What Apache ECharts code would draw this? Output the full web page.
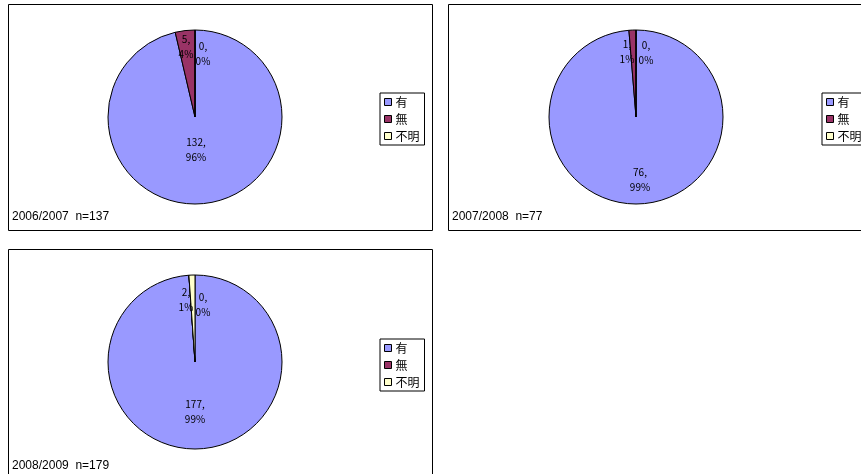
<!DOCTYPE html>
<html>
<head>
<meta charset="utf-8">
<script src="https://cdn.jsdelivr.net/npm/echarts@6/dist/echarts.min.js"></script>
<style>
  html, body { margin: 0; padding: 0; background: #fff; }
  #main { width: 861px; height: 474px; }
</style>
</head>
<body>
<div id="main"></div>
<script>
// カテゴリ
var categories = ["有", "無", "不明"];
// 各年度の件数
var values2006 = [132, 5, 0];
var values2007 = [76, 1, 0];
var values2008 = [177, 0, 2];
var titles = ["2006/2007  n=137", "2007/2008  n=77", "2008/2009  n=179"];
var colors = ["#9999FF", "#993366", "#FFFFCC"];

var myChart = echarts.init(document.getElementById("main"));

// パネルの配置
var panels = [
  { x: 8, y: 4, w: 424, h: 226, cx: 195, cy: 117 },
  { x: 448, y: 4, w: 430, h: 226, cx: 636, cy: 117 },
  { x: 8, y: 249, w: 424, h: 240, cx: 195, cy: 362 }
];
// ラベルのずれ（中心からの位置）
var labelShift = [
  [[1, 33], [-9, -70], [8, -63]],
  [[4, 63], [-9, -65], [10, -64]],
  [[0, 50], [8, -57], [-9, -62]]
];

function makeData(vals) {
  return categories.map(function (c, i) {
    return { name: c, value: vals[i] };
  });
}

function makeSeries(vals, idx) {
  var p = panels[idx];
  return {
    type: "pie",
    center: [p.cx, p.cy],
    radius: 87,
    startAngle: 90,
    clockwise: true,
    minAngle: 0,
    avoidLabelOverlap: false,
    stillShowZeroSum: true,
    silent: true,
    itemStyle: { borderColor: "#000", borderWidth: 1 },
    label: {
      show: true,
      position: "inside",
      color: "#000",
      fontSize: 10,
      lineHeight: 15,
      fontFamily: "Noto Sans CJK JP",
      formatter: function (params) {
        return params.value + ",\n" + Math.round(params.percent) + "%";
      }
    },
    labelLine: { show: false },
    labelLayout: function (params) {
      var s = labelShift[idx][params.dataIndex];
      return {
        x: p.cx + s[0],
        y: p.cy + s[1],
        align: "center",
        verticalAlign: "middle"
      };
    },
    data: makeData(vals)
  };
}

function makeLegend(left, top) {
  return {
    data: categories,
    orient: "vertical",
    left: left,
    top: top,
    icon: "rect",
    itemWidth: 7,
    itemHeight: 7,
    itemGap: 5,
    padding: [3, 5, 3, 4],
    borderColor: "#000",
    borderWidth: 1,
    backgroundColor: "#fff",
    itemStyle: { borderColor: "#000", borderWidth: 1 },
    textStyle: { fontSize: 12, color: "#000", fontFamily: "Noto Sans CJK JP", padding: [0, 0, 0, -1] }
  };
}

var graphics = [];
panels.forEach(function (p, i) {
  graphics.push({
    type: "rect",
    silent: true,
    z: -10,
    shape: { x: p.x + 0.5, y: p.y + 0.5, width: p.w, height: p.h },
    style: { fill: "#fff", stroke: "#000", lineWidth: 1 }
  });
  graphics.push({
    type: "text",
    silent: true,
    left: p.x + 4,
    top: (i === 2 ? 460 : p.y + 207),
    style: {
      text: titles[i],
      fill: "#000",
      font: "12px 'Liberation Sans', Arial, sans-serif"
    }
  });
});

var option = {
  animation: false,
  color: colors,
  graphic: graphics,
  legend: [makeLegend(380, 93), makeLegend(822, 93), makeLegend(380, 339)],
  series: [
    makeSeries(values2006, 0),
    makeSeries(values2007, 1),
    makeSeries(values2008, 2)
  ]
};
myChart.setOption(option);
</script>
</body>
</html>
